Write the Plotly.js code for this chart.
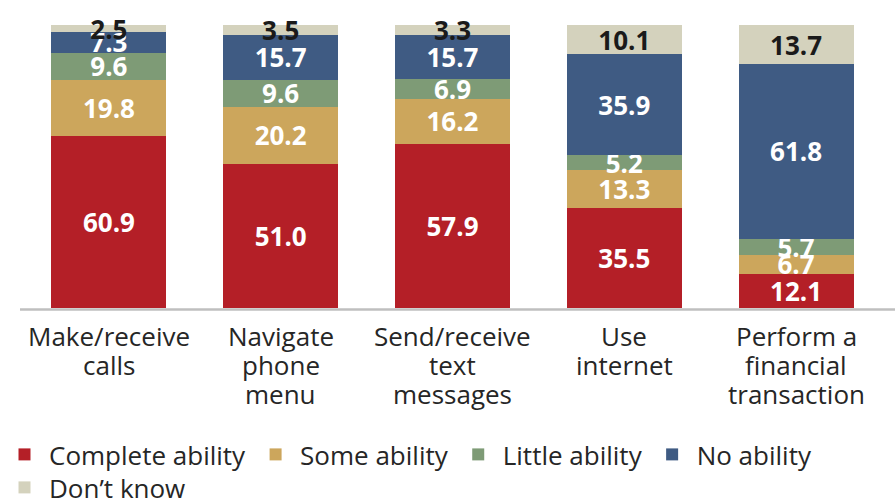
<!DOCTYPE html>
<html>
<head>
<meta charset="utf-8">
<script src="https://cdn.plot.ly/plotly-3.0.1.min.js"></script>
<style>html,body{margin:0;padding:0;background:#fff;}#chart{width:895px;height:501px;}</style>
</head>
<body>
<div id="chart"></div>
<script>
const categories = ["Make/receive<br>calls", "Navigate<br>phone<br>menu", "Send/receive<br>text<br>messages", "Use<br>internet", "Perform a<br>financial<br>transaction"];
const seriesNames = ["Complete ability", "Some ability", "Little ability", "No ability", "Don\u2019t know"];
const completeAbility = [60.9, 51.0, 57.9, 35.5, 12.1];
const someAbility = [19.8, 20.2, 16.2, 13.3, 6.7];
const littleAbility = [9.6, 9.6, 6.9, 5.2, 5.7];
const noAbility = [7.3, 15.7, 15.7, 35.9, 61.8];
const dontKnow = [2.5, 3.5, 3.3, 10.1, 13.7];

const seriesValues = [completeAbility, someAbility, littleAbility, noAbility, dontKnow];
const colors = ["#B41F27", "#CCA65C", "#7E9B76", "#3F5B83", "#D4D2BD"];
const labelColors = ["#ffffff", "#ffffff", "#ffffff", "#ffffff", "#1a1a1a"];
const legendIds = ["legend", "legend", "legend", "legend", "legend2"];
const xIdx = categories.map((_, i) => i);

const traces = seriesValues.map((vals, s) => ({
  type: "bar",
  name: seriesNames[s],
  legend: legendIds[s],
  x: xIdx,
  y: vals,
  marker: {color: colors[s], line: {width: 0}},
  text: vals.map(v => v.toFixed(1)),
  textposition: "inside",
  insidetextanchor: "middle",
  constraintext: "none",
  cliponaxis: false,
  textfont: {family: "Open Sans", size: 26, weight: 700, color: labelColors[s]},
  hoverinfo: "skip"
}));

// category labels: one text per line, tighter line spacing than Plotly's default
const catLines = categories.map(c => c.split("<br>"));
const lineGap = 29;
const firstShift = 8;
const tickFont = {family: "Open Sans", size: 26, color: "#262626"};
const annotations = [];
catLines.forEach((lines, i) => {
  lines.forEach((ln, k) => {
    annotations.push({
      x: xIdx[i], xref: "x",
      y: 0, yref: "paper",
      xanchor: "center", yanchor: "top",
      yshift: -(firstShift + k * lineGap),
      text: ln,
      showarrow: false,
      font: tickFont
    });
  });
});

const plotLeft = 23, plotRight = 882;
const plotW = plotRight - plotLeft;
const legendFont = {family: "Open Sans", size: 26, color: "#262626"};

const layout = {
  width: 895,
  height: 501,
  margin: {l: plotLeft, r: 895 - plotRight, t: 25, b: 193},
  paper_bgcolor: "#ffffff",
  plot_bgcolor: "#ffffff",
  barmode: "stack",
  bargap: 0.33,
  showlegend: true,
  font: {family: "Open Sans", color: "#262626"},
  xaxis: {
    range: [-0.5, 4.5],
    tickmode: "array",
    tickvals: xIdx,
    showticklabels: false,
    ticks: "",
    showline: false,
    showgrid: false,
    zeroline: false
  },
  yaxis: {range: [0, 100.1], visible: false, showgrid: false, zeroline: false},
  legend: {
    orientation: "h", traceorder: "normal",
    xref: "container", yref: "container",
    x: -1 / 895, xanchor: "left",
    y: 1 - 431 / 501, yanchor: "top",
    itemwidth: 39,
    font: legendFont, bgcolor: "rgba(0,0,0,0)", borderwidth: 0
  },
  legend2: {
    orientation: "h", traceorder: "normal",
    xref: "container", yref: "container",
    x: -1 / 895, xanchor: "left",
    y: 1 - 464 / 501, yanchor: "top",
    itemwidth: 39,
    font: legendFont, bgcolor: "rgba(0,0,0,0)", borderwidth: 0
  },
  annotations: annotations,
  shapes: [{
    type: "line", xref: "paper", yref: "paper",
    x0: (20 - plotLeft) / plotW, x1: (895 - plotLeft) / plotW,
    y0: -1.5 / 283, y1: -1.5 / 283,
    line: {color: "#BFBFBF", width: 2.5},
    layer: "above"
  }]
};

Plotly.newPlot("chart", traces, layout, {displayModeBar: false, staticPlot: true});
</script>
</body>
</html>
